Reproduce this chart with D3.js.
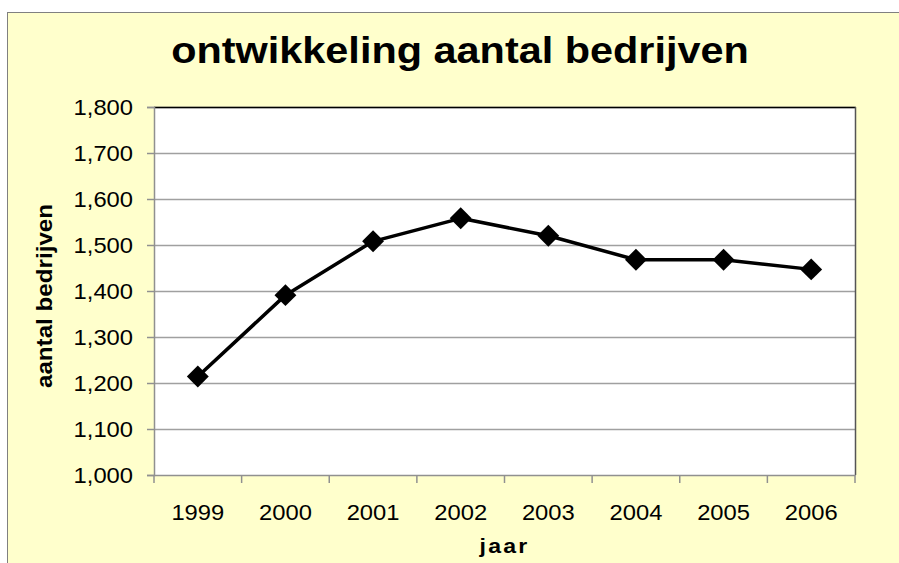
<!DOCTYPE html>
<html>
<head>
<meta charset="utf-8">
<script src="https://cdn.jsdelivr.net/npm/d3@7"></script>
<style>
	body { margin: 0; background: #fff; }
	text { font-family: Arial, "Liberation Sans", sans-serif; }
</style>
</head>
<body>
<div class="chart"></div>
<script>
	// data
	var years = ["1999", "2000", "2001", "2002", "2003", "2004", "2005", "2006"];
	var bedrijven = [1214, 1391, 1508, 1558, 1520, 1468, 1468, 1447];
	var yTicks = [1000, 1100, 1200, 1300, 1400, 1500, 1600, 1700, 1800];

	var width = 899,
		height = 563;

	var plot = {left: 154, top: 107, right: 855, bottom: 475};
	var stretch = 1.08; // the original text is a bit wide

	var svg = d3.select(".chart").append("svg")
		.attr("width", width)
		.attr("height", height);

	// chart area background
	svg.append("rect")
		.attr("x", 7.5)
		.attr("y", 12.5)
		.attr("width", width)
		.attr("height", height)
		.attr("fill", "#ffffcc")
		.attr("stroke", "#808080")
		.attr("stroke-width", 1);

	var x = d3.scaleBand()
		.domain(years)
		.range([plot.left, plot.right]);

	var y = d3.scaleLinear()
		.domain([1000, 1800])
		.range([plot.bottom, plot.top]);

	// plot area
	svg.append("rect")
		.attr("x", plot.left)
		.attr("y", plot.top)
		.attr("width", plot.right - plot.left)
		.attr("height", plot.bottom - plot.top)
		.attr("fill", "#fff");

	// gridlines
	svg.append("g")
		.selectAll("line")
		.data(yTicks.slice(1))
		.enter().append("line")
		.attr("x1", plot.left)
		.attr("x2", plot.right)
		.attr("y1", function(d) { return Math.round(y(d)) + 0.5; })
		.attr("y2", function(d) { return Math.round(y(d)) + 0.5; })
		.attr("stroke", "#a0a0a0")
		.attr("stroke-width", 1.5);

	// plot border top / right
	svg.append("line")
		.attr("x1", plot.left).attr("x2", plot.right + 1)
		.attr("y1", plot.top + 0.5).attr("y2", plot.top + 0.5)
		.attr("stroke", "#000").attr("stroke-width", 1.5);
	svg.append("line")
		.attr("x1", plot.right + 0.5).attr("x2", plot.right + 0.5)
		.attr("y1", plot.top).attr("y2", plot.bottom)
		.attr("stroke", "#555").attr("stroke-width", 1.5);

	// y axis
	var yAxis = svg.append("g")
		.attr("transform", "translate(" + plot.left + ",0)")
		.call(d3.axisLeft(y)
			.tickValues(yTicks)
			.tickSize(7)
			.tickPadding(14)
			.tickFormat(d3.format(",")));

	// x axis, ticks on the band edges
	var xAxis = svg.append("g")
		.attr("transform", "translate(0," + plot.bottom + ")")
		.call(d3.axisBottom(x).tickSize(0).tickPadding(45));

	xAxis.selectAll(".edge")
		.data(d3.range(years.length + 1))
		.enter().append("line")
		.attr("class", "edge")
		.attr("x1", function(i) { return plot.left + i * x.step(); })
		.attr("x2", function(i) { return plot.left + i * x.step(); })
		.attr("y1", 0)
		.attr("y2", 8)
		.attr("stroke", "#909090")
		.attr("stroke-width", 1.5);

	[yAxis, xAxis].forEach(function(ax) {
		ax.select(".domain").attr("stroke", "#909090").attr("stroke-width", 1.5);
		ax.selectAll(".tick line").attr("stroke", "#909090").attr("stroke-width", 1.5);
		ax.selectAll(".tick text")
			.attr("fill", "#000")
			.style("font-size", "22px")
			.style("font-family", "Arial, 'Liberation Sans', sans-serif");
	});
	xAxis.selectAll(".tick text")
		.attr("dy", "0")
		.attr("transform", "scale(" + stretch + ",1)");
	yAxis.selectAll(".tick text")
		.attr("x", -21 / stretch)
		.attr("transform", "scale(" + stretch + ",1)");

	// the line
	var line = d3.line()
		.x(function(d, i) { return x(years[i]) + x.bandwidth() / 2; })
		.y(function(d) { return y(d); });

	svg.append("path")
		.datum(bedrijven)
		.attr("d", line)
		.attr("fill", "none")
		.attr("stroke", "#000")
		.attr("stroke-width", 3.5)
		.attr("stroke-linejoin", "round");

	// diamond markers
	svg.append("g")
		.selectAll("path")
		.data(bedrijven)
		.enter().append("path")
		.attr("d", d3.symbol().type(d3.symbolSquare).size(240))
		.attr("transform", function(d, i) {
			return "translate(" + (x(years[i]) + x.bandwidth() / 2) + "," + y(d) + ") rotate(45)";
		})
		.attr("fill", "#000");

	// titles
	svg.append("text")
		.attr("transform", "translate(460,63) scale(1.12,1)")
		.attr("text-anchor", "middle")
		.style("font-size", "37px")
		.style("font-weight", "bold")
		.text("ontwikkeling aantal bedrijven");

	svg.append("text")
		.attr("transform", "translate(" + ((plot.left + plot.right) / 2) + ",553) scale(1.1,1)")
		.attr("text-anchor", "middle")
		.style("font-size", "21px")
		.style("font-weight", "bold")
		.style("letter-spacing", "2px")
		.text("jaar");

	svg.append("text")
		.attr("transform", "translate(52,296) rotate(-90) scale(1.1,1)")
		.attr("text-anchor", "middle")
		.style("font-size", "22px")
		.style("font-weight", "bold")
		.text("aantal bedrijven");
</script>
</body>
</html>
